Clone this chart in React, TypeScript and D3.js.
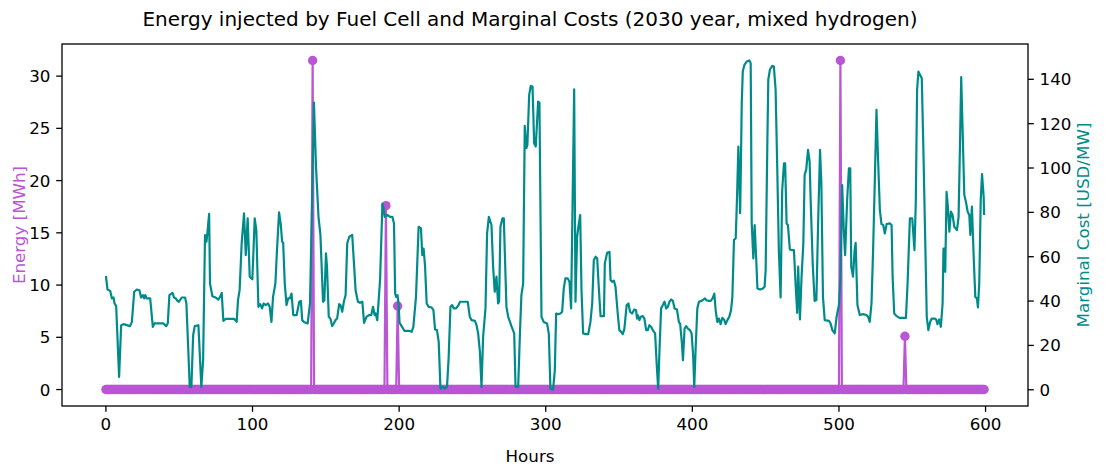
import React from 'react';
import * as d3 from 'd3';

// figure size and plot frame
const svgWidth = 1105;
const svgHeight = 472;
const frameLeft = 62;
const frameRight = 1028;
const frameTop = 44;
const frameBottom = 406;
const figCenter = 530; // suptitle / supxlabel centre after the tight crop

const energyColor = '#ba55d3'; // mediumorchid
const costColor = '#008b8b'; // darkcyan
const fontFamily = 'DejaVu Sans, Verdana, sans-serif';

// hours of the run
const hours = d3.range(0, 600);

// fuel cell injects only in a few hours, zero everywhere else
const spikeHours = [141, 191, 199, 501, 545];
const spikeEnergy = [31.5, 17.6, 8.0, 31.5, 5.1];
const energy = hours.map((h) => {
  const i = spikeHours.indexOf(h);
  return i < 0 ? 0 : spikeEnergy[i];
});

// marginal cost (hour, USD/MW)
const costHours = [
  0, 1.1, 2.9, 4.1, 5.2, 5.9, 7.0, 9.0, 10.4, 12.0, 16.5, 17.7, 19.3, 21.1, 22.9, 24.0, 25.2, 26.1, 26.8, 27.9,
  30.2, 32.0, 33.1, 39.3, 41.1, 42.2, 43.3, 45.4, 46.5, 47.7, 48.8, 49.8, 51.7, 54.0, 54.9, 57.2, 58.3, 59.5,
  60.6, 63.1, 65.1, 66.3, 67.6, 68.6, 69.2, 70.4, 71.0, 72.6, 74.9, 76.7, 77.9, 79.0, 80.1, 81.7, 87.4, 89.2,
  90.1, 91.2, 92.6, 94.2, 95.4, 96.7, 98.1, 99.9, 101.5, 102.6, 104.0, 105.3, 106.5, 107.6, 109.0, 110.6, 111.7,
  112.9, 114.0, 115.6, 116.7, 118.1, 119.3, 120.2, 120.9, 122.0, 123.2, 124.3, 125.5, 126.6, 127.8, 130.1, 131.9,
  133.0, 133.9, 135.1, 136.3, 137.6, 139.2, 140.6, 141.9, 143.3, 145.0, 146.3, 148.1, 149.0, 150.1, 150.8, 152.0,
  153.1, 154.3, 155.4, 156.6, 157.7, 159.1, 160.0, 161.2, 162.3, 163.5, 164.6, 166.0, 168.0, 169.2, 170.3, 171.9,
  173.3, 174.9, 176.1, 177.7, 179.4, 181.0, 182.2, 183.3, 184.0, 185.1, 187.0, 188.6, 189.2, 190.2, 192.0, 193.8,
  195.4, 196.5, 197.3, 198.0, 198.9, 199.6, 200.3, 201.7, 203.6, 207.0, 208.5, 209.7, 211.5, 213.3, 214.9, 215.8,
  216.7, 217.7, 218.8, 220.2, 222.2, 223.4, 224.5, 225.8, 227.0, 228.2, 229.7, 231.3, 232.7, 233.8, 235.0, 236.1,
  237.3, 238.9, 240.5, 241.6, 244.6, 246.8, 248.2, 249.4, 251.7, 252.8, 253.9, 255.1, 256.2, 257.3, 258.9, 260.0,
  261.2, 263.0, 264.1, 265.2, 266.4, 267.5, 268.2, 269.1, 270.5, 271.4, 273.2, 274.4, 276.6, 278.5, 279.4, 281.2,
  282.4, 283.4, 284.6, 285.7, 286.8, 287.5, 288.7, 289.8, 291.0, 292.1, 293.2, 294.8, 295.7, 297.1, 298.6, 300.9,
  302.1, 303.2, 305.0, 306.2, 307.1, 308.4, 310.0, 311.2, 312.3, 313.4, 315.0, 316.2, 317.3, 319.4, 320.3, 321.4,
  322.6, 323.5, 324.4, 325.5, 327.1, 329.0, 330.5, 331.7, 332.8, 334.0, 335.1, 336.3, 337.4, 339.7, 340.3, 341.9,
  343.5, 344.2, 345.3, 346.5, 347.6, 349.1, 350.2, 351.4, 352.5, 353.6, 355.2, 356.4, 357.5, 358.9, 360.4, 361.6,
  362.3, 362.9, 363.9, 364.8, 366.2, 367.3, 368.5, 369.6, 370.7, 371.9, 373.0, 374.6, 375.8, 376.7, 377.6, 378.7,
  379.9, 381.0, 382.2, 383.3, 384.4, 385.6, 386.7, 387.9, 389.5, 390.8, 391.7, 392.9, 393.6, 394.7, 395.8, 397.0,
  398.4, 399.5, 400.6, 401.3, 402.2, 403.4, 404.5, 406.3, 408.6, 409.7, 410.9, 412.5, 413.8, 415.0, 415.9, 417.0,
  418.1, 419.3, 420.4, 421.6, 422.7, 423.9, 425.2, 426.4, 427.3, 428.4, 429.6, 430.5, 431.4, 432.1, 432.6, 433.0,
  433.7, 434.4, 435.5, 437.1, 438.9, 439.8, 440.5, 441.6, 442.5, 443.5, 444.4, 446.2, 448.1, 449.3, 450.0, 451.1,
  451.8, 452.9, 454.5, 455.6, 456.8, 457.9, 459.0, 460.2, 461.3, 462.5, 463.3, 464.3, 465.2, 466.5, 467.7, 469.3,
  470.4, 471.5, 472.2, 473.4, 474.5, 475.7, 476.6, 477.7, 478.9, 480.0, 480.7, 482.1, 483.4, 484.6, 485.9, 487.1,
  488.0, 489.1, 490.3, 493.2, 494.3, 495.5, 497.1, 498.4, 500.0, 501.0, 502.2, 503.3, 504.2, 505.6, 506.8, 507.7,
  508.4, 509.6, 510.7, 511.4, 512.6, 514.2, 516.4, 518.7, 519.9, 521.0, 522.2, 523.3, 524.5, 525.6, 526.7, 527.9,
  529.0, 530.2, 531.3, 532.5, 534.7, 535.9, 536.6, 537.7, 539.3, 541.6, 543.9, 545.7, 546.8, 548.4, 550.0, 551.5,
  552.4, 553.3, 554.2, 555.3, 556.5, 557.6, 558.8, 559.9, 561.0, 562.2, 563.3, 565.2, 566.3, 567.2, 568.4, 569.5,
  570.7, 571.3, 572.0, 572.5, 573.4, 574.3, 575.3, 576.4, 577.5, 578.7, 580.5, 581.6, 582.5, 583.4, 584.4, 585.5,
  586.6, 587.8, 588.9, 589.6, 590.7, 591.9, 593.0, 594.1, 594.8, 595.7, 596.7, 597.6, 598.7, 599.0,
];
const costValues = [
  51.3, 45.2, 44.6, 41.2, 41.6, 38.9, 37.7, 5.8, 29.1, 29.6, 28.7, 30.6, 44.2, 45.2, 44.9, 41.6, 42.7, 41.2, 42.7, 41.2,
  41.2, 28.4, 29.9, 29.9, 28.7, 29.9, 42.7, 43.7, 41.6, 41.2, 40.1, 39.7, 41.6, 41.6, 38.9, 1.3, 1.3, 24.6,
  28.7, 29.1, 1.3, 13.3, 69.8, 66.8, 70.5, 79.3, 47.9, 42.2, 41.6, 40.7, 41.9, 43.7, 31.1, 32.0, 32.0, 30.6,
  40.4, 44.9, 66.0, 79.6, 60.7, 77.3, 51.0, 49.8, 77.3, 72.0, 37.4, 38.6, 36.7, 38.9, 38.2, 38.9, 37.4,
  30.6, 41.9, 47.9, 63.0, 80.0, 74.3, 66.8, 66.3, 47.9, 38.2, 41.2, 41.2, 43.4, 33.7, 33.7, 39.7,
  40.1, 31.4, 30.6, 30.2, 29.9, 38.9, 84.1, 129.5, 100.6, 78.0, 70.0, 39.7, 40.4, 61.5, 55.5, 32.9,
  32.1, 28.7, 29.9, 31.4, 32.1, 38.6, 38.2, 35.2, 39.7, 42.7, 66.0, 69.0, 69.8, 57.0, 44.9, 39.7,
  39.2, 39.7, 30.2, 32.9, 33.7, 33.7, 37.4, 33.7, 34.4, 31.4, 49.5, 83.8, 82.6, 78.0, 78.8, 78.0,
  78.0, 75.0, 43.4, 41.9, 42.7, 38.9, 30.2, 28.7, 26.6, 26.6, 26.1, 28.4, 41.9, 73.5, 72.8, 60.7,
  63.7, 55.5, 38.9, 37.4, 37.1, 35.9, 27.2, 26.9, 21.6, 0.5, 1.3, 0.5, 1.6, 14.8, 37.4, 38.2,
  36.7, 36.7, 38.2, 39.7, 39.7, 39.7, 32.9, 31.4, 31.1, 29.1, 25.4, 17.1, 1.3, 23.9, 36.7, 70.5,
  78.0, 74.3, 55.5, 44.2, 51.0, 38.9, 39.7, 73.5, 77.3, 77.3, 37.4, 32.9, 28.7, 25.4, 1.3, 1.3,
  25.4, 42.7, 47.9, 119.0, 108.9, 110.4, 133.0, 137.0, 136.7, 111.2, 109.7, 130.0, 129.5, 32.9, 30.6, 29.9,
  25.4, 0.5, 0.1, 8.8, 34.4, 34.1, 34.4, 35.2, 45.7, 50.2, 50.2, 48.7, 36.7, 135.5, 39.7, 69.0,
  75.0, 78.8, 44.9, 25.4, 25.1, 25.1, 30.6, 38.9, 58.5, 60.0, 59.2, 44.9, 33.2, 33.2, 57.0, 61.8,
  62.2, 49.5, 48.7, 49.2, 46.4, 34.4, 26.9, 26.1, 25.1, 27.2, 38.2, 38.9, 35.2, 34.4, 36.2, 35.9,
  32.1, 33.6, 31.4, 32.9, 33.2, 32.1, 26.9, 26.9, 29.1, 28.4, 26.9, 25.4, 10.3, 0.5, 17.8, 36.7,
  38.2, 39.7, 36.7, 37.4, 39.7, 40.7, 40.1, 36.7, 36.2, 30.6, 29.6, 20.9, 13.3, 27.6, 28.7, 27.6,
  26.9, 25.4, 14.8, 1.3, 17.8, 36.7, 39.7, 40.1, 41.2, 40.4, 40.1, 40.1, 41.2, 43.4, 35.9, 30.6,
  32.1, 29.6, 32.4, 31.7, 29.6, 31.4, 32.9, 35.9, 41.9, 67.5, 68.3, 87.1, 109.7, 93.1, 79.6, 96.1,
  129.2, 143.5, 146.5, 148.0, 148.5, 147.3, 75.0, 59.2, 74.3, 60.0, 45.7, 45.2, 45.7, 46.5, 54.0, 108.2,
  139.8, 144.3, 146.1, 145.8, 135.2, 100.6, 63.0, 41.6, 90.1, 102.1, 102.1, 75.0, 74.3, 63.3, 63.0, 63.0,
  47.9, 34.7, 55.5, 31.7, 51.0, 66.0, 96.9, 99.4, 108.2, 102.9, 85.6, 57.0, 40.1, 40.4, 78.0, 108.2,
  93.1, 41.9, 31.4, 31.1, 29.9, 26.9, 25.4, 32.9, 38.2, 50.0, 92.3, 72.0, 60.7, 85.6, 99.9, 99.9,
  55.5, 51.0, 63.0, 66.3, 38.2, 33.7, 34.1, 33.7, 32.9, 30.6, 38.9, 63.0, 95.4, 126.2, 103.6, 81.1,
  74.7, 74.3, 70.5, 74.7, 75.0, 74.3, 51.0, 34.4, 33.2, 32.4, 32.4, 32.4, 47.9, 77.3, 77.3, 63.0,
  84.1, 135.2, 143.5, 142.0, 140.5, 108.2, 69.0, 32.9, 26.9, 30.6, 32.1, 32.1, 31.7, 29.6, 31.7, 28.4,
  38.9, 63.7, 63.7, 53.2, 89.3, 82.6, 71.3, 80.3, 78.8, 73.5, 72.0, 78.0, 108.2, 141.0, 115.7, 87.8,
  84.8, 80.3, 78.8, 69.8, 82.6, 60.0, 41.9, 41.2, 37.1, 47.9, 85.6, 97.3, 87.1, 78.8,
];

// tick labels
const hourTicks = [0, 100, 200, 300, 400, 500, 600];
const energyTicks = [0, 5, 10, 15, 20, 25, 30];
const costTicks = [0, 20, 40, 60, 80, 100, 120, 140];

// matplotlib style 5% padding around the data
const padded = (lo: number, hi: number) => {
  const pad = (hi - lo) * 0.05;
  return [lo - pad, hi + pad];
};

const xScale = d3.scaleLinear()
  .domain(padded(0, hours.length - 1))
  .range([frameLeft, frameRight]);

const energyScale = d3.scaleLinear()
  .domain(padded(d3.min(energy) as number, d3.max(energy) as number))
  .range([frameBottom, frameTop]);

const costScale = d3.scaleLinear()
  .domain(padded(d3.min(costValues) as number, d3.max(costValues) as number))
  .range([frameBottom, frameTop]);

const energyLine = d3.line<number>()
  .x((d, i) => xScale(hours[i]))
  .y((d) => energyScale(d));

const costLine = d3.line<number>()
  .x((d, i) => xScale(costHours[i]))
  .y((d) => costScale(d));

const tickLen = 5.8;
const tickPad = 5.8;
const tickFont = 16.7;
const lineWidth = 2.2;

export default function App() {
  return (
    <svg
      width={svgWidth}
      height={svgHeight}
      style={{ position: 'absolute', left: 0, top: 0, background: '#fff' }}
      fontFamily={fontFamily}
    >
      {/* title */}
      <text x={figCenter} y={26} textAnchor="middle" fontSize={20} fill="#000">
        Energy injected by Fuel Cell and Marginal Costs (2030 year, mixed hydrogen)
      </text>

      {/* energy series: line with a marker at every hour */}
      <path d={energyLine(energy) as string} fill="none" stroke={energyColor} strokeWidth={lineWidth} strokeLinejoin="round" />
      {energy.map((d, i) => (
        <circle key={i} cx={xScale(hours[i])} cy={energyScale(d)} r={4.7} fill={energyColor} />
      ))}

      {/* marginal cost, drawn on the twin axis above */}
      <path d={costLine(costValues) as string} fill="none" stroke={costColor} strokeWidth={lineWidth} strokeLinejoin="round" />

      {/* frame */}
      <rect
        x={frameLeft}
        y={frameTop}
        width={frameRight - frameLeft}
        height={frameBottom - frameTop}
        fill="none"
        stroke="#000"
        strokeWidth={1.3}
      />

      {/* x axis */}
      {hourTicks.map((t) => (
        <g key={'x' + t}>
          <line x1={xScale(t)} x2={xScale(t)} y1={frameBottom} y2={frameBottom + tickLen} stroke="#000" strokeWidth={1.3} />
          <text x={xScale(t)} y={frameBottom + tickLen + tickPad + 12.6} textAnchor="middle" fontSize={tickFont}>
            {t}
          </text>
        </g>
      ))}
      <text x={figCenter} y={462} textAnchor="middle" fontSize={tickFont}>
        Hours
      </text>

      {/* left axis: energy */}
      {energyTicks.map((t) => (
        <g key={'e' + t}>
          <line x1={frameLeft - tickLen} x2={frameLeft} y1={energyScale(t)} y2={energyScale(t)} stroke="#000" strokeWidth={1.3} />
          <text x={frameLeft - tickLen - tickPad} y={energyScale(t)} dy="0.36em" textAnchor="end" fontSize={tickFont}>
            {t}
          </text>
        </g>
      ))}
      <text
        transform={`translate(25, ${(frameTop + frameBottom) / 2}) rotate(-90)`}
        textAnchor="middle"
        fontSize={tickFont}
        fill={energyColor}
      >
        Energy [MWh]
      </text>

      {/* right axis: marginal cost */}
      {costTicks.map((t) => (
        <g key={'c' + t}>
          <line x1={frameRight} x2={frameRight + tickLen} y1={costScale(t)} y2={costScale(t)} stroke="#000" strokeWidth={1.3} />
          <text x={frameRight + tickLen + tickPad} y={costScale(t)} dy="0.36em" textAnchor="start" fontSize={tickFont}>
            {t}
          </text>
        </g>
      ))}
      <text
        transform={`translate(1089, ${(frameTop + frameBottom) / 2}) rotate(-90)`}
        textAnchor="middle"
        fontSize={tickFont}
        fill={costColor}
      >
        Marginal Cost [USD/MW]
      </text>
    </svg>
  );
}
